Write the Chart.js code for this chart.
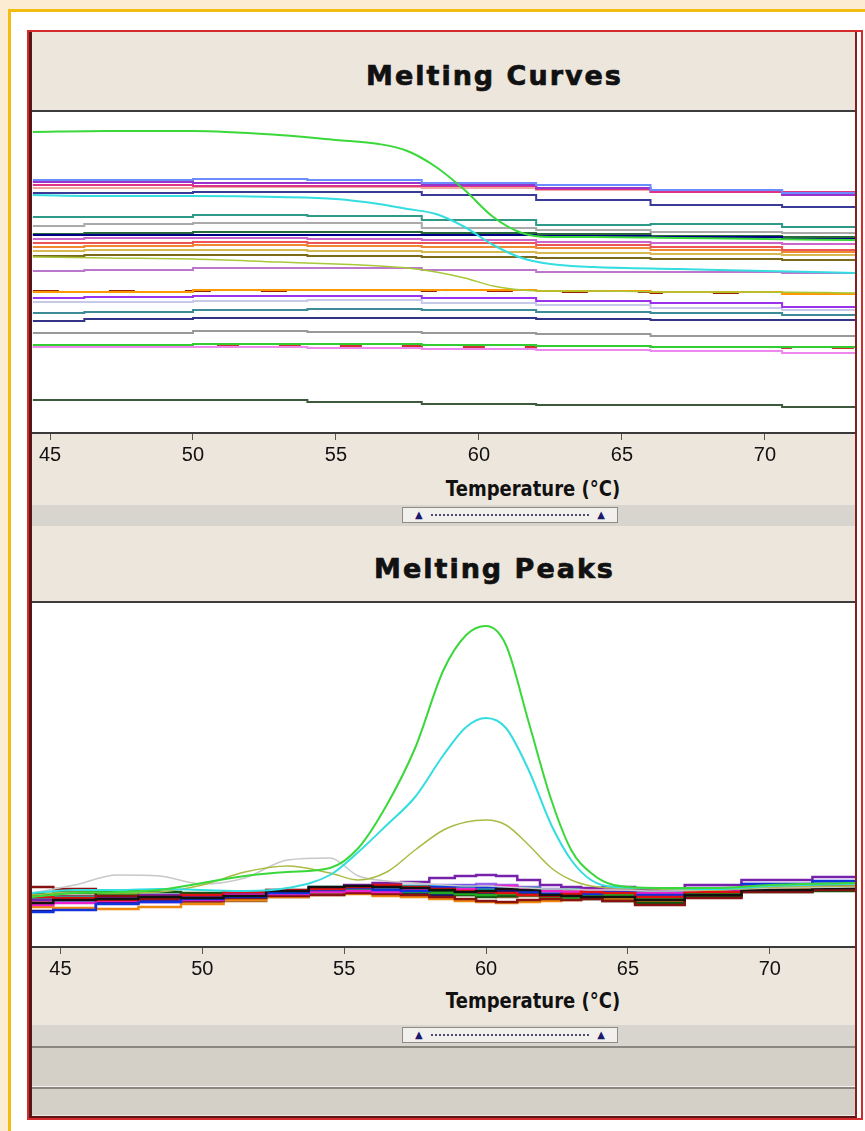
<!DOCTYPE html>
<html lang="en">
<head>
<meta charset="UTF-8">
<title>Melting Curves / Melting Peaks</title>
<script src="https://cdn.jsdelivr.net/npm/chart.js@4.4.1/dist/chart.umd.min.js"></script>
<style>
  html, body { margin: 0; padding: 0; }
  body { width: 865px; height: 1131px; background: #fbecd2; position: relative; overflow: hidden; font-family: "DejaVu Sans", sans-serif; }
  .abs { position: absolute; }
  #sheet { left: 8px; top: 9px; width: 857px; height: 1122px; background: #fff; border-top: 3px solid #f2bc12; border-left: 3px solid #f2bc12; box-sizing: border-box; }
  #frame { left: 27px; top: 30px; width: 836px; height: 1090px; border: 2px solid #d62b2b; box-sizing: border-box; }
  #inner { left: 29px; top: 32px; width: 828px; height: 1086px; border-left: 3px solid #5a1616; border-right: 2px solid #8a1c1c; border-bottom: 2px solid #5a1616; box-sizing: border-box; background: #ede6dd; }
  .title { left: 83px; width: 823px; text-align: center; font-weight: bold; font-size: 27px; letter-spacing: 2px; color: #111; -webkit-text-stroke: 0.7px #111; }
  .darkline { left: 32px; width: 823px; height: 2px; background: #3c3c3c; }
  .plot { left: 32px; width: 823px; background: #fff; }
  .axtitle { left: 443px; width: 180px; text-align: center; font-weight: bold; font-size: 18px; color: #111; transform: scaleY(1.22); white-space: nowrap; }
  .strip { left: 32px; width: 823px; height: 21px; background: #d8d4ce; }
  .widget { left: 402px; width: 216px; height: 16px; background: #f2f0ec; border: 1px solid #8e8a84; box-sizing: border-box; }
  .widget .dots { position: absolute; left: 28px; right: 28px; top: 6px; border-top: 2px dotted #4c4c6c; }
  .widget .tri { position: absolute; top: 0px; font-size: 10px; line-height: 14px; color: #1a1a6e; }
  canvas { position: absolute; }
</style>
</head>
<body>
<div class="abs" id="sheet"></div>
<div class="abs" id="frame"></div>
<div class="abs" id="inner"></div>

<div class="abs title" style="top:60px">Melting Curves</div>
<div class="abs darkline" style="top:110px"></div>
<div class="abs plot" style="top:112px;height:321px"></div>
<div class="abs axtitle" style="top:478px">Temperature (°C)</div>
<div class="abs strip" style="top:505px"></div>
<div class="abs widget" style="top:507px"><span class="tri" style="left:12px">▲</span><div class="dots"></div><span class="tri" style="right:12px">▲</span></div>

<div class="abs title" style="top:553px">Melting Peaks</div>
<div class="abs darkline" style="top:601px"></div>
<div class="abs plot" style="top:603px;height:344px"></div>
<div class="abs axtitle" style="top:990px">Temperature (°C)</div>
<div class="abs strip" style="top:1025px"></div>
<div class="abs widget" style="top:1027px"><span class="tri" style="left:12px">▲</span><div class="dots"></div><span class="tri" style="right:12px">▲</span></div>
<div class="abs" style="left:32px;top:1046px;width:823px;height:2px;background:#8a8680"></div>
<div class="abs" style="left:32px;top:1048px;width:823px;height:67px;background:#d4d0c8"></div>
<div class="abs" style="left:32px;top:1086px;width:823px;height:1px;background:#f4f2ee"></div>
<div class="abs" style="left:32px;top:1087px;width:823px;height:2px;background:#8a8680"></div>

<canvas id="curves" width="823" height="370" style="left:32px;top:113px"></canvas>
<canvas id="peaks" width="823" height="392" style="left:32px;top:605px"></canvas>

<script>
// x axis ticks (both charts)
const tickTemps = [45, 50, 55, 60, 65, 70];

// ---------- Melting Curves: fluorescence (arbitrary units) ----------
const curveTemps = [44.4, 48, 52, 56, 60, 64, 68, 73.2];
const curveColors = ['#6b8cff', '#9933cc', '#dd3388', '#f0a8a0', '#3a3a99', '#2f9a88', '#aaaaaa', '#000088',
  '#2a6a3a', '#cc66cc', '#ee5555', '#ee8833', '#d8b850', '#7a6a1a', '#bb77cc', '#ff9900', '#992200',
  '#9933ee', '#c8c8e8', '#3d8a99', '#333388', '#999999', '#33cc33', '#ee88ee', '#cc3333', '#3d5a3d'];
const curveValues = [
  [253, 253, 254, 253, 250, 248, 243, 240],
  [251, 251, 250, 250, 248, 245, 243, 238],
  [248, 248, 247, 247, 247, 244, 241, 241],
  [245, 245, 246, 246, 245, 243, 241, 240],
  [240, 240, 241, 241, 238, 233, 228, 226],
  [216, 216, 218, 217, 213, 208, 209, 206],
  [207, 209, 210, 210, 205, 203, 201, 200],
  [198, 198, 198, 198, 198, 197, 196, 194],
  [199, 200, 201, 201, 200, 199, 197, 196],
  [194, 195, 195, 194, 193, 191, 190, 189],
  [190, 190, 191, 190, 190, 188, 186, 183],
  [186, 187, 188, 187, 186, 185, 183, 181],
  [182, 183, 183, 182, 181, 180, 179, 178],
  [177, 178, 178, 177, 176, 175, 174, 173],
  [162, 163, 165, 165, 163, 161, 161, 160],
  [141, 141, 143, 143, 143, 142, 141, 139],
  [142, 142, 142, 143, 142, 141, 140, 140],
  [135, 136, 137, 137, 135, 132, 130, 126],
  [131, 131, 132, 133, 130, 128, 125, 123],
  [120, 121, 123, 124, 123, 121, 120, 118],
  [112, 114, 115, 115, 115, 114, 113, 113],
  [100, 100, 102, 101, 100, 99, 97, 97],
  [88, 88, 89, 89, 88, 87, 86, 86],
  [86, 86, 86, 85, 84, 83, 82, 80],
  [86, 87, 88, 87, 86, 87, 86, 85],
  [33, 33, 33, 31, 29, 28, 28, 26]
];
// the three samples that melt
const meltTemps = [44.4, 47, 50, 53, 55, 56.5, 57.5, 58.5, 59.5, 60.5, 61.5, 62.5, 64, 67, 70, 73.2];
const meltGreen = [301, 302, 302, 298, 293, 289, 282, 266, 243, 216, 200, 196, 196, 195, 194, 193];
const meltCyan = [238, 237, 237, 236, 234, 229, 224, 219, 206, 188, 175, 169, 166, 164, 162, 160];
const meltOlive = [176, 175, 174, 171, 169, 167, 165, 161, 155, 147, 143, 142, 142, 141, 141, 140];

// ---------- Melting Peaks: -dF/dT (arbitrary units) ----------
const peakTemps = [44, 45.5, 47, 48.5, 50, 51.5, 53, 54.5, 55.5, 56.5, 57.5, 58.5, 59.3, 60, 60.7, 61.5, 62.3, 63, 63.7, 64.5, 66, 68, 70, 73];
const peakGreen = [50, 54, 55, 57, 64, 71, 75, 79, 99, 142, 199, 277, 312, 321, 302, 225, 147, 97, 74, 62, 59, 59, 62, 64];
const peakCyan = [54, 57, 57, 58, 57, 56, 59, 72, 95, 122, 150, 192, 220, 229, 219, 177, 122, 87, 67, 60, 59, 58, 61, 63];
const peakOlive = [52, 55, 54, 55, 62, 75, 81, 74, 67, 75, 97, 117, 125, 127, 122, 102, 79, 67, 61, 59, 58, 57, 60, 61];
const peakGrey = [54, 62, 72, 71, 63, 69, 87, 89, 71, 66, 64, 62, 61, 61, 60, 59, 58, 58, 57, 57, 56, 57, 59, 60];
const noiseColors = ['#111111', '#dd1111', '#1133dd', '#ee22cc', '#881111', '#7722aa', '#22aa22', '#115511',
  '#ee8811', '#11aaaa', '#111177', '#ff6699', '#996633', '#33aaff', '#aa2255', '#9966ee'];
const noiseValues = [
  [44, 47, 48, 50, 49, 51, 56, 60, 61, 60, 59, 57, 55, 56, 58, 57, 52, 51, 50, 50, 47, 52, 57, 59],
  [50, 49, 47, 50, 52, 55, 57, 58, 60, 62, 60, 58, 56, 55, 54, 52, 51, 53, 55, 54, 50, 55, 60, 62],
  [35, 37, 43, 45, 48, 50, 54, 57, 59, 57, 56, 60, 61, 60, 58, 55, 53, 52, 53, 55, 52, 58, 63, 66],
  [42, 44, 46, 45, 47, 52, 53, 55, 56, 55, 57, 59, 58, 60, 61, 58, 56, 55, 57, 56, 54, 57, 61, 63],
  [60, 58, 51, 48, 46, 49, 51, 52, 54, 53, 52, 50, 48, 46, 45, 47, 48, 47, 48, 46, 42, 49, 55, 57],
  [47, 48, 50, 52, 51, 53, 56, 59, 62, 64, 65, 69, 71, 72, 71, 67, 62, 60, 59, 60, 57, 62, 67, 70],
  [52, 54, 53, 51, 50, 51, 53, 55, 57, 56, 55, 54, 53, 52, 53, 52, 50, 49, 51, 52, 49, 53, 57, 58],
  [53, 55, 56, 55, 54, 53, 55, 58, 59, 60, 58, 55, 52, 50, 51, 52, 52, 50, 48, 46, 44, 50, 55, 56],
  [40, 39, 38, 40, 43, 47, 50, 52, 53, 51, 50, 48, 46, 45, 44, 45, 46, 47, 49, 48, 45, 52, 58, 60],
  [49, 50, 51, 52, 53, 54, 57, 60, 61, 62, 61, 60, 59, 58, 60, 59, 57, 58, 57, 56, 55, 58, 61, 63],
  [36, 38, 44, 47, 50, 51, 53, 55, 55, 54, 53, 52, 53, 54, 56, 54, 52, 51, 52, 51, 50, 54, 58, 60],
  [46, 47, 49, 50, 49, 51, 54, 56, 58, 57, 58, 59, 60, 58, 57, 58, 56, 57, 58, 57, 55, 57, 60, 61],
  [51, 50, 49, 47, 45, 46, 50, 53, 54, 55, 54, 53, 52, 51, 50, 51, 53, 52, 50, 49, 47, 51, 56, 58],
  [46, 45, 46, 48, 51, 52, 55, 57, 58, 59, 60, 61, 60, 59, 58, 56, 55, 56, 57, 55, 53, 57, 62, 64],
  [50, 51, 52, 50, 48, 50, 52, 54, 56, 57, 56, 54, 53, 53, 55, 56, 55, 53, 51, 52, 50, 55, 59, 60],
  [43, 45, 47, 48, 49, 52, 55, 58, 59, 60, 61, 62, 62, 63, 62, 60, 58, 57, 58, 58, 56, 59, 63, 65]
];

function series(temps, values, color, width, mode, dash) {
  return {
    data: values.map((v, i) => ({ x: temps[i], y: v })),
    borderColor: color,
    borderWidth: width,
    borderDash: dash || [],
    pointRadius: 0,
    tension: 0,
    stepped: mode === 'step' ? 'middle' : false,
    cubicInterpolationMode: mode === 'smooth' ? 'monotone' : 'default',
    fill: false
  };
}

function makeChart(id, datasets, xmin, xmax, ymax) {
  return new Chart(document.getElementById(id), {
    type: 'line',
    data: { datasets: datasets },
    options: {
      responsive: false,
      animation: false,
      devicePixelRatio: 1,
      layout: { padding: 0 },
      plugins: { legend: { display: false }, tooltip: { enabled: false } },
      scales: {
        x: {
          type: 'linear', min: xmin, max: xmax,
          afterBuildTicks: s => { s.ticks = tickTemps.map(v => ({ value: v })); },
          afterFit: s => { s.height = 50; },
          grid: { drawOnChartArea: false, drawTicks: true, tickLength: 7, color: '#555' },
          border: { display: true, color: '#3a3a3a', width: 2 },
          ticks: {
            color: '#111', padding: 3, maxRotation: 0, autoSkip: false,
            font: { family: '"Liberation Sans", Arial, sans-serif', size: 20 }
          }
        },
        y: { display: false, min: 0, max: ymax }
      }
    }
  });
}

// top chart
const dashed = { 16: [26, 50], 24: [22, 40] };
const curveSets = [
  series(meltTemps, meltGreen, '#3ad83a', 2, 'smooth'),
  series(meltTemps, meltCyan, '#33dde0', 2, 'smooth'),
  series(meltTemps, meltOlive, '#a8c83a', 1.5, 'smooth')
];
curveValues.forEach((vals, i) => {
  curveSets.push(series(curveTemps, vals, curveColors[i], 2, 'step', dashed[i]));
});
makeChart('curves', curveSets, 44.37, 73.15, 320);

// bottom chart
const peakSets = [
  series(peakTemps, peakGreen, '#3ad83a', 2, 'smooth'),
  series(peakTemps, peakCyan, '#33dde0', 2, 'smooth'),
  series(peakTemps, peakOlive, '#aabb44', 1.5, 'smooth'),
  series(peakTemps, peakGrey, '#c8c8c8', 1.5, 'smooth')
];
noiseValues.forEach((vals, i) => {
  peakSets.push(series(peakTemps, vals, noiseColors[i], 2.5, 'step'));
});
makeChart('peaks', peakSets, 44.0, 73.0, 342);
</script>
</body>
</html>
